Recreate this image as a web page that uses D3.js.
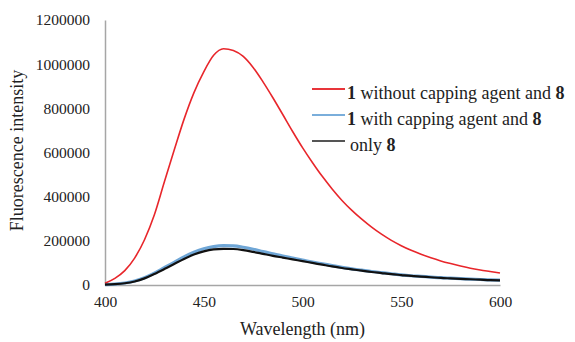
<!DOCTYPE html>
<html>
<head>
<meta charset="utf-8">
<script src="https://cdn.jsdelivr.net/npm/d3@7"></script>
<style>
  body { margin: 0; background: #fff; }
  svg { display: block; font-family: "Liberation Serif", "Times New Roman", serif; }
  .tick text { font-family: "Liberation Serif", "Times New Roman", serif; }
</style>
</head>
<body>
<svg id="chart" width="575" height="342"></svg>
<script>
// wavelengths (nm), 5 nm steps
const wavelengths = d3.range(400, 601, 5);

// 1 without capping agent and 8
const redValues = [8000, 30000, 65000, 122000, 205000, 318000, 465000, 610000, 750000, 870000,
  965000, 1040000, 1070000, 1062000, 1035000, 985000, 920000, 848000, 772000, 695000,
  622000, 555000, 492000, 435000, 383000, 338000, 298000, 262000, 230000, 202000,
  178000, 157000, 139000, 123000, 109000, 97000, 86000, 76000, 68000, 61000, 54000];

// 1 with capping agent and 8
const blueValues = [2000, 4000, 9000, 18000, 33000, 54000, 78000, 102000, 127000, 148000,
  164000, 174000, 178000, 177000, 171000, 162000, 151000, 141000, 131000, 122000,
  113000, 104000, 96000, 88000, 80000, 73000, 67000, 61000, 56000, 51000,
  46000, 42000, 39000, 36000, 33000, 31000, 29000, 27000, 25000, 23000, 22000];

// only 8
const blackValues = [2000, 4000, 8000, 16000, 30000, 50000, 72000, 95000, 118000, 138000,
  152000, 161000, 164000, 163000, 158000, 150000, 141000, 132000, 124000, 116000,
  108000, 100000, 92000, 84000, 77000, 71000, 65000, 59000, 54000, 49000,
  45000, 41000, 38000, 35000, 32000, 30000, 28000, 26000, 24000, 22000, 21000];

const xTicks = [400, 450, 500, 550, 600];
const yTicks = [0, 200000, 400000, 600000, 800000, 1000000, 1200000];

const series = [
  { values: blueValues, color: "#6fa6d6", width: 3.2 },
  { values: redValues, color: "#e8262b", width: 1.6 },
  { values: blackValues, color: "#111", width: 2.2 }
];

const serif = '"Liberation Serif", "Times New Roman", serif';

const margin = { top: 20, right: 75, bottom: 57, left: 105 };
const width = 575 - margin.left - margin.right;
const height = 342 - margin.top - margin.bottom;

const svg = d3.select("#chart")
  .append("g")
  .attr("transform", `translate(${margin.left},${margin.top})`);

const x = d3.scaleLinear().domain([400, 600]).range([0, width]);
const y = d3.scaleLinear().domain([0, 1200000]).range([height, 0]);

// axes, grey lines, no tick marks
svg.append("g")
  .attr("transform", `translate(0,${height})`)
  .call(d3.axisBottom(x).tickValues(xTicks).tickSize(0).tickPadding(11).tickFormat(d3.format("d")))
  .attr("font-family", serif)
  .attr("font-size", 15.5)
  .call(g => g.select(".domain").attr("stroke", "#a6a6a6").attr("stroke-width", 1.5))
  .selectAll("text")
  .attr("fill", "#222");

svg.append("g")
  .call(d3.axisLeft(y).tickValues(yTicks).tickSize(0).tickPadding(15).tickFormat(d3.format("d")))
  .attr("font-family", serif)
  .attr("font-size", 15.5)
  .call(g => g.select(".domain").attr("stroke", "#a6a6a6").attr("stroke-width", 1.5))
  .selectAll("text")
  .attr("fill", "#222");

// curves
const line = d3.line()
  .x((d, i) => x(wavelengths[i]))
  .y(d => y(d))
  .curve(d3.curveMonotoneX);

svg.selectAll(".curve")
  .data(series)
  .enter()
  .append("path")
  .attr("class", "curve")
  .attr("d", d => line(d.values))
  .attr("fill", "none")
  .attr("stroke", d => d.color)
  .attr("stroke-width", d => d.width)
  .attr("stroke-linejoin", "round");

// axis titles
svg.append("text")
  .attr("x", width / 2)
  .attr("y", height + 50)
  .attr("text-anchor", "middle")
  .style("font-size", "18px")
  .style("fill", "#222")
  .text("Wavelength (nm)");

svg.append("text")
  .attr("transform", "rotate(-90)")
  .attr("x", -height / 2 + 2)
  .attr("y", -margin.left + 23)
  .attr("text-anchor", "middle")
  .style("font-size", "18px")
  .style("fill", "#222")
  .text("Fluorescence intensity");

// legend
const legendItems = [
  { pre: "1", text: " without capping agent and ", post: "8", color: "#e8353a" },
  { pre: "1", text: " with capping agent and ", post: "8", color: "#7aaedb" },
  { pre: "", text: "only ", post: "8", color: "#555" }
];

const legend = svg.append("g")
  .attr("transform", `translate(${312 - margin.left},${89 - margin.top})`);

const rows = legend.selectAll(".row")
  .data(legendItems)
  .enter()
  .append("g")
  .attr("class", "row")
  .attr("transform", (d, i) => `translate(0,${i * 26})`);

rows.append("line")
  .attr("x1", 0).attr("x2", 33)
  .attr("y1", 0).attr("y2", 0)
  .attr("stroke", d => d.color)
  .attr("stroke-width", 2);

const labels = rows.append("text")
  .attr("x", d => d.pre ? 35 : 38)
  .attr("y", 10)
  .style("font-size", "18px")
  .style("fill", "#222");

labels.append("tspan").style("font-weight", "bold").text(d => d.pre);
labels.append("tspan").text(d => d.text);
labels.append("tspan").style("font-weight", "bold").text(d => d.post);
</script>
</body>
</html>
